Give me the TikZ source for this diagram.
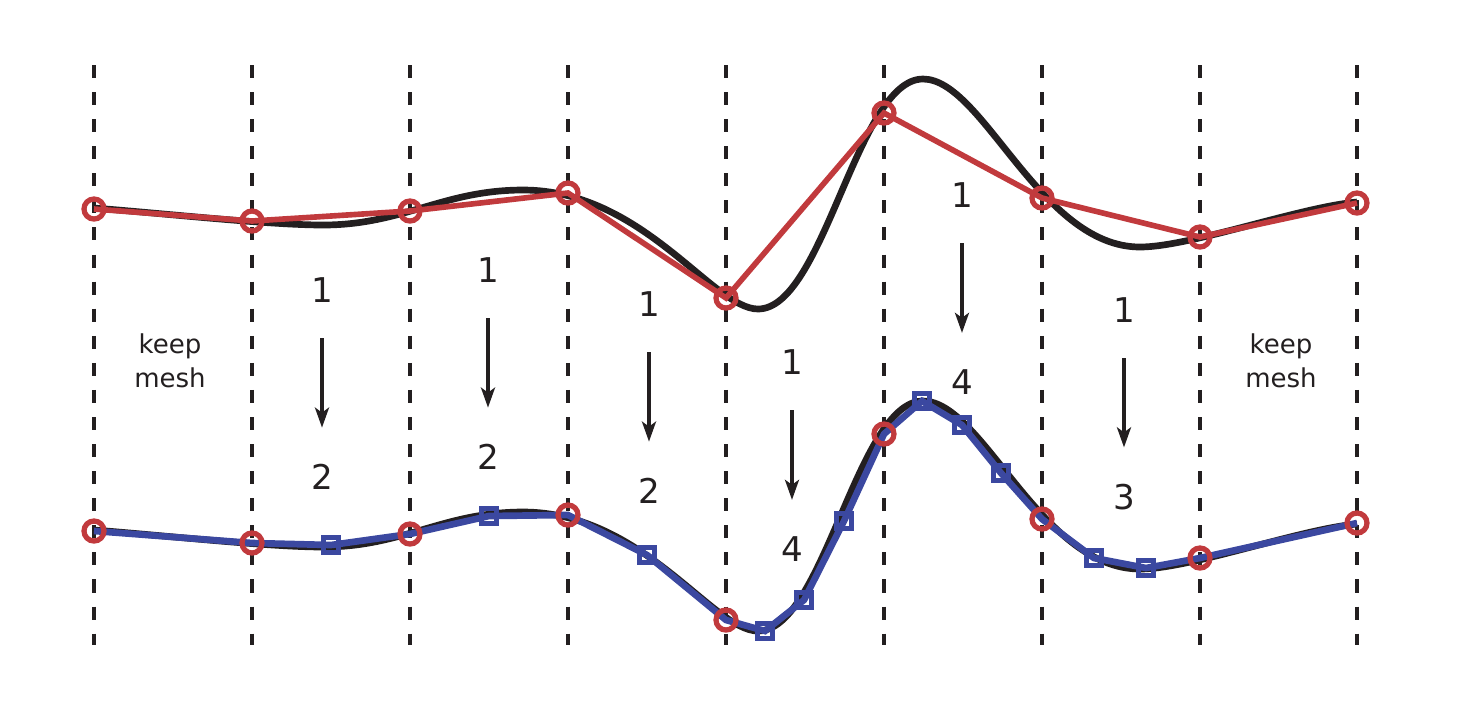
\documentclass[tikz,border=0pt]{standalone}
\usepackage{fontspec}
\setmainfont{DejaVu Sans}
\usetikzlibrary{arrows.meta}
\definecolor{meshred}{RGB}{193,58,61}
\definecolor{meshblue}{RGB}{59,72,160}
\definecolor{curveblack}{RGB}{35,31,32}
\tikzset{
  cellline/.style={curveblack,line width=1.05pt,dash pattern=on 3.7pt off 4pt},
  exact/.style={curveblack,line width=1.9pt},
  coarse/.style={meshred,line width=1.6pt},
  fine/.style={meshblue,line width=1.9pt},
  oldpt/.style={circle,draw=meshred,line width=1.5pt,minimum size=0.2cm,inner sep=0pt},
  newpt/.style={rectangle,draw=meshblue,line width=1.5pt,minimum size=0.145cm,inner sep=0pt},
  count/.style={inner sep=0pt,text=curveblack,font=\fontsize{9.7}{11}\selectfont},
  keepmesh/.style={align=center,inner sep=0pt,text=curveblack,font=\fontsize{7.4}{9.6}\selectfont},
  refine/.style={curveblack,line width=0.95pt,-{Stealth[length=2mm,width=1.4mm,inset=0.5mm]},
    shorten <=0.35cm,shorten >=0.36cm}
}

\begin{document}
\begin{tikzpicture}[x=0.01cm,y=-0.01cm]
    \useasboundingbox (0,0) rectangle (1462,723);
    %cell borders
    \foreach \x in {94,252,410,568,726,884,1042,1200,1357}
        \draw[cellline] (\x,65) -- (\x,645);

    %exact profile, old mesh (top) and refined mesh (bottom)
    \foreach \dy in {0,322} {
        \begin{scope}[shift={(0,\dy)}]
        \draw[exact] (94,208) .. controls (170,214) and (270,225) .. (323,225)
            .. controls (403,225) and (443,190) .. (523,190)
            .. controls (643,190) and (713,309) .. (758,309)
            .. controls (824,309) and (857,79) .. (923,79)
            .. controls (983,79) and (1040,247) .. (1140,247)
            .. controls (1190,247) and (1300,207) .. (1357,202);
        \end{scope}
    }

    %old mesh points
    \coordinate (u1) at (94,209);
    \coordinate (u2) at (252,221);
    \coordinate (u3) at (410,211);
    \coordinate (u4) at (568,193);
    \coordinate (u5) at (726,298);
    \coordinate (u6) at (884,113);
    \coordinate (u7) at (1042,198);
    \coordinate (u8) at (1200,237);
    \coordinate (u9) at (1357,203);
    \draw[coarse] (u1) -- (u2) -- (u3) -- (u4) -- (u5) -- (u6) -- (u7) -- (u8) -- (u9);
    \foreach \i in {1,...,9}
        \node[oldpt] (ou\i) at (u\i) {};

    %refined mesh points
    \coordinate (v1) at (94,531);
    \coordinate (v2) at (252,543);
    \coordinate (v3) at (410,534);
    \coordinate (v4) at (568,515);
    \coordinate (v5) at (726,620);
    \coordinate (v6) at (884,434);
    \coordinate (v7) at (1042,519);
    \coordinate (v8) at (1200,558);
    \coordinate (v9) at (1357,523);
    \coordinate (s1) at (331,545);
    \coordinate (s2) at (489,516);
    \coordinate (s3) at (647,555);
    \coordinate (s4) at (765,631);
    \coordinate (s5) at (804,600);
    \coordinate (s6) at (844,521);
    \coordinate (s7) at (922,401);
    \coordinate (s8) at (962,425);
    \coordinate (s9) at (1001,473);
    \coordinate (s10) at (1094,558);
    \coordinate (s11) at (1146,568);
    \draw[fine] (v1) -- (v2) -- (s1) -- (v3) -- (s2) -- (v4) -- (s3) -- (v5) -- (s4) -- (s5) -- (s6) -- (v6)
        -- (s7) -- (s8) -- (s9) -- (v7) -- (s10) -- (s11) -- (v8) -- (v9);
    \foreach \i in {1,...,11}
        \node[newpt] (ns\i) at (s\i) {};
    \foreach \i in {1,...,9}
        \node[oldpt] (ov\i) at (v\i) {};

    %refinement per cell
    \node[keepmesh] (keepL) at (170,361) {keep\\mesh};
    \node[keepmesh] (keepR) at (1281,361) {keep\\mesh};
    \foreach \x/\y/\n/\k in {322/290/2/2, 488/270/3/2, 649/304/4/2, 792/362/5/4, 962/195/6/4, 1124/310/7/3} {
        \node[count] (from\n) at (\x,\y) {1};
        \node[count] (to\n) at (\x,\y+187) {\k};
        \draw[refine] (from\n) -- (to\n);
    }
\end{tikzpicture}
\end{document}
